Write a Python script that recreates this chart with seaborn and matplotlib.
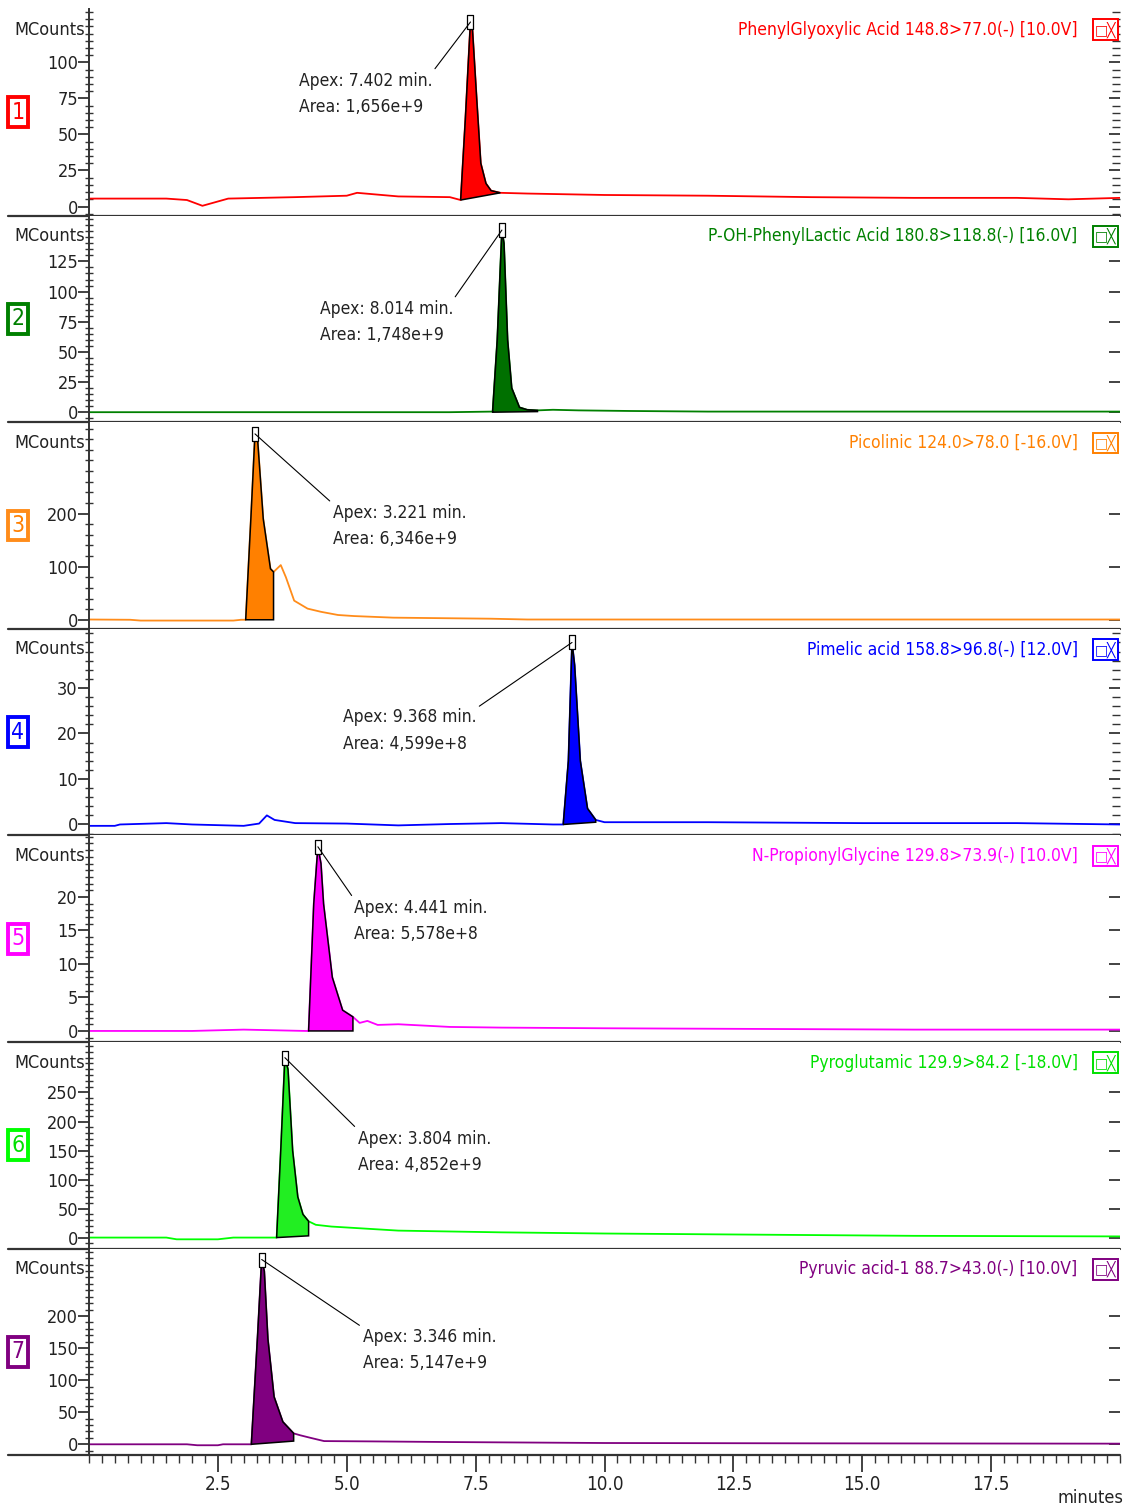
import numpy as np
import matplotlib
matplotlib.use("Agg")
import matplotlib.pyplot as plt
import matplotlib.lines as mlines
from matplotlib import font_manager
from matplotlib.ticker import MultipleLocator
import seaborn as sns

# retention time (min) and intensity (MCounts)
t1 = [0.0, 1.5, 1.9, 2.2, 2.45, 2.7, 4.0, 5.0, 5.2, 6.0, 7.0, 7.21, 7.30, 7.40, 7.44, 7.52, 7.60, 7.70, 7.80, 7.98, 8.5, 10.0, 12.0, 14.0, 16.0, 18.0, 19.0, 20.0]
i1 = [5.5, 5.5, 4.5, 0.5, 3.0, 5.5, 6.5, 7.5, 9.5, 7.0, 6.5, 4.5, 60, 128, 122, 75, 30, 16, 11, 9.5, 9.0, 8.0, 7.5, 6.5, 6.0, 6.0, 5.0, 6.0]

t2 = [0.0, 2.0, 4.0, 6.0, 7.0, 7.83, 7.92, 8.01, 8.05, 8.12, 8.20, 8.35, 8.50, 8.70, 9.0, 9.5, 10.5, 12.0, 15.0, 18.0, 20.0]
i2 = [0, 0, 0, 0, 0, 0.5, 60, 151, 140, 60, 20, 4, 2, 1.5, 2.0, 1.5, 1.0, 0.5, 0.5, 0.5, 0.5]

t3 = [0.0, 0.8, 1.0, 2.8, 2.95, 3.04, 3.14, 3.22, 3.27, 3.38, 3.52, 3.58, 3.72, 3.82, 3.98, 4.24, 4.5, 4.83, 5.14, 5.9, 7.8, 8.5, 12.0, 16.0, 20.0]
i3 = [0.5, 0, -1.5, -1.5, 0, 0, 190, 350, 340, 190, 96, 90, 103, 80, 36, 21, 15, 9, 7, 4, 2, 0.5, 0.5, 0.5, 0.5]

t4 = [0.0, 0.5, 0.6, 1.5, 2.0, 3.0, 3.3, 3.45, 3.6, 4.0, 5.0, 6.0, 7.0, 8.0, 9.0, 9.20, 9.30, 9.37, 9.42, 9.53, 9.67, 9.83, 10.0, 12.0, 15.0, 18.0, 20.0]
i4 = [-0.3, -0.3, 0.0, 0.3, 0.0, -0.3, 0.2, 2.0, 1.0, 0.3, 0.2, -0.2, 0.1, 0.3, 0.0, 0.0, 14, 40, 35, 14, 3.5, 1.0, 0.5, 0.5, 0.3, 0.3, 0.0]

t5 = [0.0, 2.0, 3.0, 4.2, 4.26, 4.36, 4.44, 4.50, 4.55, 4.72, 4.92, 5.12, 5.25, 5.40, 5.60, 6.0, 7.0, 8.0, 10.0, 13.0, 16.0, 20.0]
i5 = [0, 0, 0.2, 0, 0, 19, 27.5, 25, 19, 8, 3.1, 2.1, 1.2, 1.5, 0.9, 1.0, 0.6, 0.5, 0.4, 0.3, 0.2, 0.2]

t6 = [0.0, 1.5, 1.7, 2.5, 2.8, 3.64, 3.72, 3.80, 3.86, 3.95, 4.05, 4.15, 4.26, 4.40, 4.7, 6.0, 8.0, 10.0, 13.0, 16.0, 20.0]
i6 = [0, 0, -3, -3, 0, 0, 150, 310, 290, 150, 70, 40, 28, 22, 19, 12, 9, 7, 5, 3, 2]

t7 = [0.0, 1.9, 2.1, 2.5, 2.6, 3.15, 3.27, 3.35, 3.40, 3.47, 3.59, 3.76, 3.97, 4.10, 4.30, 4.56, 5.5, 7.0, 10.0, 14.0, 20.0]
i7 = [0, 0, -1.5, -1.5, 0, 0, 168, 288, 270, 164, 74, 35, 17, 14, 10, 5, 4.5, 3.5, 2, 1.5, 1]

times = [t1, t2, t3, t4, t5, t6, t7]
counts = [i1, i2, i3, i4, i5, i6, i7]

titles = [
    "PhenylGlyoxylic Acid 148.8>77.0(-) [10.0V]",
    "P-OH-PhenylLactic Acid 180.8>118.8(-) [16.0V]",
    "Picolinic 124.0>78.0 [-16.0V]",
    "Pimelic acid 158.8>96.8(-) [12.0V]",
    "N-PropionylGlycine 129.8>73.9(-) [10.0V]",
    "Pyroglutamic 129.9>84.2 [-18.0V]",
    "Pyruvic acid-1 88.7>43.0(-) [10.0V]",
]
apex_min = [7.402, 8.014, 3.221, 9.368, 4.441, 3.804, 3.346]
areas = ["1,656e+9", "1,748e+9", "6,346e+9", "4,599e+8", "5,578e+8", "4,852e+9", "5,147e+9"]

# integrated peak window and its drawn baseline
peak_start = [7.21, 7.83, 3.04, 9.20, 4.26, 3.64, 3.15]
peak_end = [7.98, 8.70, 3.58, 9.83, 5.12, 4.26, 3.97]
base_start = [4.5, 0.0, 0.0, 0.0, 0.0, 0.0, 0.0]
base_end = [9.5, 0.5, 0.0, 0.5, 0.0, 3.0, 5.0]

y_limits = [(-6.3, 137), (-8.3, 163), (-17, 372), (-2.4, 43), (-1.65, 29.2), (-19, 337), (-17, 305)]
y_major = [25, 25, 100, 10, 5, 50, 50]
y_minor = [5, 5, 20, 2, 1, 10, 10]
y_top_tick = [100, 125, 200, 30, 20, 250, 200]

line_colors = ["#ff0000", "#008000", "#ff8c1a", "#0000ff", "#ff00ff", "#00ff00", "#800080"]
fill_colors = ["#ff0000", "#007000", "#ff8000", "#0000ff", "#ff00ff", "#22ee22", "#800080"]
text_colors = ["#ff0000", "#008000", "#ff8000", "#0000ff", "#ff00ff", "#00e000", "#800080"]

# annotation offsets (pixels) from apex and which corner the leader line uses
label_offset = [(-38, -50), (-49, -70), (78, -70), (-96, -66), (36, -52), (73, -72), (101, -68)]
label_left = [False, False, True, False, True, True, True]
minor_right = [True, False, False, True, False, False, False]

sns.set_theme(style="white")

# pick a narrow face if one is installed, the reference uses a condensed font
fonts = font_manager.fontManager.ttflist
names = {f.name for f in fonts}
fsize = 12.5
if "Liberation Sans Narrow" in names:
    plt.rcParams["font.family"] = ["Liberation Sans Narrow", "DejaVu Sans"]
    fsize = 14
elif any(f.name == "DejaVu Sans" and f.stretch == "condensed" for f in fonts):
    plt.rcParams["font.family"] = ["DejaVu Sans"]
    plt.rcParams["font.stretch"] = "condensed"
else:
    plt.rcParams["font.family"] = ["Liberation Sans", "DejaVu Sans"]
    fsize = 12

W, H = 1130, 1506
fig = plt.figure(figsize=(W / 100, H / 100), dpi=100)
left_px, right_px, top_px, panel_h = 89, 1120, 9, 206.6

rect_marker = [(-0.5, -1), (0.5, -1), (0.5, 1), (-0.5, 1), (-0.5, -1)]

for k in range(7):
    bottom = 1 - (top_px + panel_h * (k + 1)) / H
    ax = fig.add_axes([left_px / W, bottom, (right_px - left_px) / W, panel_h / H])
    t = np.array(times[k])
    v = np.array(counts[k])
    c = line_colors[k]

    sns.lineplot(x=t, y=v, ax=ax, color=c, lw=1.3, sort=False)

    # shaded integrated peak
    m = (t >= peak_start[k] - 1e-9) & (t <= peak_end[k] + 1e-9)
    px = np.r_[t[m], peak_end[k], peak_start[k]]
    py = np.r_[v[m], base_end[k], base_start[k]]
    ax.fill(px, py, fc=fill_colors[k], ec="black", lw=1.1, zorder=3)

    # apex marker and label
    j = np.argmax(v)
    ax.plot([t[j]], [v[j]], marker=rect_marker, ms=10, mfc="white", mec="black", mew=0.9, zorder=5, clip_on=False)
    relpos = (0, 1) if label_left[k] else (1, 1)
    ax.annotate(
        f"Apex: {apex_min[k]:.3f} min.\nArea: {areas[k]}",
        xy=(t[j], v[j]), xytext=label_offset[k], textcoords="offset pixels",
        ha="left" if label_left[k] else "right", va="top", multialignment="left",
        fontsize=fsize, linespacing=1.6, color="#222222",
        arrowprops=dict(arrowstyle="-", color="black", lw=0.8, relpos=relpos, shrinkA=0, shrinkB=0),
        zorder=6,
    )

    ax.set_xlim(0, 20)
    ax.set_ylim(*y_limits[k])
    ax.yaxis.set_minor_locator(MultipleLocator(y_minor[k]))
    ax.set_yticks(np.arange(0, y_top_tick[k] + 1, y_major[k]))
    ax.set_ylabel("")
    ax.set_xlabel("")

    for s in ["top", "right", "bottom"]:
        ax.spines[s].set_visible(False)
    ax.spines["left"].set_color("#333333")
    ax.spines["left"].set_linewidth(1.4)

    ax.tick_params(axis="y", which="major", direction="out", length=8, width=1.2,
                   left=True, right=True, labelsize=fsize + 0.5, pad=0, colors="#222222")
    ax.tick_params(axis="y", which="minor", direction="inout", length=6, width=1.0,
                   left=True, right=minor_right[k], colors="#333333")
    for tk in ax.yaxis.get_major_ticks() + ax.yaxis.get_minor_ticks():
        tk.tick2line.set_marker(mlines.TICKLEFT)

    # separator line under the panel, reaching past the y axis
    ax.plot([-0.079, 1.0], [0, 0], transform=ax.transAxes, color="#333333", lw=1.6, clip_on=False, zorder=7)

    ax.text(-0.004, 0.9, "MCounts", transform=ax.transAxes, ha="right", va="center", fontsize=fsize + 0.5, color="#222222")
    ax.text(0.959, 0.9, titles[k], transform=ax.transAxes, ha="right", va="center", fontsize=fsize, color=text_colors[k])
    ax.text(0.986, 0.9, "□╳", transform=ax.transAxes, ha="center", va="center", fontsize=10,
            family="DejaVu Sans", stretch="normal", color=text_colors[k],
            bbox=dict(boxstyle="square,pad=0.15", fc="white", ec=text_colors[k], lw=1.4))
    ax.text(-0.069, 0.5, str(k + 1), transform=ax.transAxes, ha="center", va="center", fontsize=fsize + 4,
            color=text_colors[k],
            bbox=dict(boxstyle="square,pad=0.15", fc="white", ec=line_colors[k], lw=2.8))

    if k < 6:
        ax.tick_params(axis="x", which="both", bottom=False, labelbottom=False)
    else:
        ax.xaxis.set_minor_locator(MultipleLocator(0.25))
        ax.set_xticks([2.5, 5.0, 7.5, 10.0, 12.5, 15.0, 17.5])
        ax.set_xticklabels(["2.5", "5.0", "7.5", "10.0", "12.5", "15.0", "17.5"])
        ax.tick_params(axis="x", which="major", direction="out", length=12, width=1.2,
                       bottom=True, labelsize=fsize + 1, pad=2, colors="#222222")
        ax.tick_params(axis="x", which="minor", direction="out", length=6, width=1.0,
                       bottom=True, colors="#333333")
        ax.text(0.971, -0.205, "minutes", transform=ax.transAxes, ha="center", va="center",
                fontsize=fsize + 0.5, color="#222222")

fig.savefig("out.png", dpi=100)
